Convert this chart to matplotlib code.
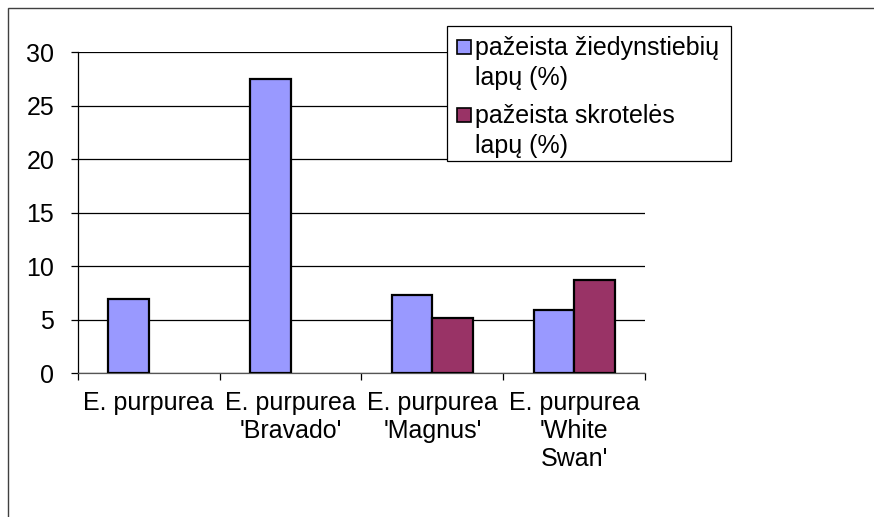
import numpy as np
import matplotlib
matplotlib.use("Agg")
import matplotlib.pyplot as plt
from matplotlib.patches import Rectangle

plt.rcParams['font.family'] = ['Liberation Sans', 'DejaVu Sans']

categories = ["E. purpurea", "E. purpurea\n'Bravado'", "E. purpurea\n'Magnus'",
              "E. purpurea\n'White\nSwan'"]
stems = [6.9, 27.5, 7.3, 5.9]
leaves = [np.nan, np.nan, 5.1, 8.7]
labels = ["pažeista žiedynstiebių\nlapų (%)", "pažeista skrotelės\nlapų (%)"]
colors = ['#9999FF', '#993366']

W, H = 874, 517
fig = plt.figure(figsize=(W / 100, H / 100), dpi=100)
ax = fig.add_axes([0.0892, 0.2785, 0.6488, 0.6209])

# outer chart frame (cut off at right/bottom)
fig.patches.append(Rectangle((8 / W, -0.05), 1.2, 1 - 8 / H + 0.05,
                             transform=fig.transFigure, fill=False,
                             edgecolor='#404040', linewidth=1.0))

x = np.arange(len(categories))
w = 0.2857
ax.bar(x - w / 2, stems, w, color=colors[0], edgecolor='black', linewidth=1.6,
       zorder=3)
ax.bar(x + w / 2, leaves, w, color=colors[1], edgecolor='black', linewidth=1.6,
       zorder=3)

ax.set_xlim(-0.5, len(categories) - 0.5)
ax.set_ylim(0, 30)
ax.set_yticks(range(0, 31, 5))
ax.yaxis.grid(True, color='black', linewidth=0.9)
ax.set_axisbelow(True)

for s in ['top', 'right']:
    ax.spines[s].set_visible(False)
ax.spines['left'].set_linewidth(0.9)
ax.spines['bottom'].set_linewidth(0.9)
ax.spines['bottom'].set_color('#555555')

ax.set_xticks(x)
ax.set_xticklabels(categories, fontsize=18, linespacing=1.2)
ax.set_xticks(np.arange(len(categories) + 1) - 0.5, minor=True)
ax.tick_params(axis='x', which='major', length=0, pad=13)
ax.tick_params(axis='x', which='minor', length=5, width=0.9, direction='out')
ax.tick_params(axis='y', length=5, width=0.9, pad=12, labelsize=18)

# legend box drawn by hand (handles top-aligned like the original)
fig.patches.append(Rectangle((447 / W, 1 - 161 / H), (731 - 447) / W, (161 - 26) / H,
                             transform=fig.transFigure, facecolor='white',
                             edgecolor='black', linewidth=0.9, zorder=5))
for i, (lab, c) in enumerate(zip(labels, colors)):
    top = 40 + i * 68
    fig.patches.append(Rectangle((457 / W, 1 - (top + 14) / H), 14 / W, 14 / H,
                                 transform=fig.transFigure, facecolor=c,
                                 edgecolor='black', linewidth=1.2, zorder=6))
    fig.text(475 / W, 1 - (top - 4) / H, lab, fontsize=18, va='top', ha='left',
             linespacing=1.3, zorder=7)

fig.savefig("out.png", dpi=100)
